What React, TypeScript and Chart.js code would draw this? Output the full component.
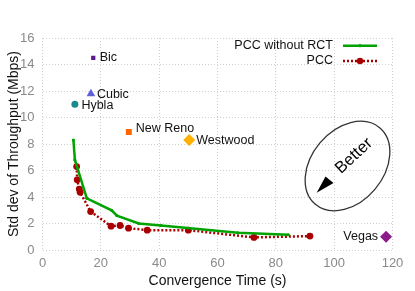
import React, { useEffect, useRef } from "react";
import { Chart, registerables } from "chart.js";
Chart.register(...registerables);

// ---- data ----
const pccNoRctX = [10.6, 11.1, 15.2, 23.7, 25.5, 33.0, 40.6, 67.0, 84.3];
const pccNoRctY = [8.3, 6.8, 3.9, 3.0, 2.6, 2.0, 1.85, 1.3, 1.15];
const pccX = [11.7, 11.9, 12.6, 12.9, 16.5, 23.5, 26.6, 29.5, 35.9, 50.0, 72.5, 91.7];
const pccY = [6.3, 5.3, 4.6, 4.35, 2.9, 1.8, 1.85, 1.65, 1.5, 1.5, 0.95, 1.05];
const tcpNames = ["Bic", "Cubic", "Hybla", "New Reno", "Westwood", "Vegas"];
const tcpX = [17.4, 16.6, 11.1, 29.6, 50.3, 117.8];
const tcpY = [14.5, 11.8, 11.0, 8.9, 8.3, 1.0];
const seriesNames = ["PCC without RCT", "PCC"];
const xTickValues = [0, 20, 40, 60, 80, 100, 120];
const yTickValues = [0, 2, 4, 6, 8, 10, 12, 14, 16];

// ---- styles ----
const tcpColors = ["#5b1a8e", "#5f5fdc", "#1a8a8a", "#ff6600", "#ffb000", "#8b1a8b"];
const tcpStyles = ["rect", "triangle", "circle", "rect", "rectRot", "rectRot"];
const tcpRadius = [3, 5, 3.5, 4.2, 6, 6];
const tcpLabelOffset: [number, number, string][] = [
  [6.5, 0, "left"],
  [6, 1, "left"],
  [6.5, 1, "left"],
  [7, -4, "left"],
  [7, 1, "left"],
  [-8, 0, "right"],
];
const GREEN = "#00a300";
const RED = "#a80000";
const FONT = "'Liberation Sans', Arial, sans-serif";

const overlayPlugin = {
  id: "overlay",
  afterDatasetsDraw(chart: any) {
    const ctx = chart.ctx;
    const xs = chart.scales.x;
    const ys = chart.scales.y;
    ctx.save();
    // point labels
    ctx.font = `12.5px ${FONT}`;
    ctx.fillStyle = "#111";
    ctx.textBaseline = "middle";
    tcpNames.forEach((n, i) => {
      const px = xs.getPixelForValue(tcpX[i]);
      const py = ys.getPixelForValue(tcpY[i]);
      const [dx, dy, al] = tcpLabelOffset[i];
      ctx.textAlign = al;
      ctx.fillText(n, px + dx, py + dy);
    });
    // legend
    const rows = [
      { y: 45.7, color: GREEN, dash: [], r: 1.6, w: 2.5 },
      { y: 61, color: RED, dash: [2, 2], r: 3.2, w: 2.5 },
    ];
    rows.forEach((row, i) => {
      ctx.textAlign = "right";
      ctx.fillStyle = "#111";
      ctx.fillText(seriesNames[i], 333, row.y);
      ctx.strokeStyle = row.color;
      ctx.lineWidth = row.w;
      ctx.setLineDash(row.dash);
      ctx.beginPath();
      ctx.moveTo(343, row.y);
      ctx.lineTo(377, row.y);
      ctx.stroke();
      ctx.setLineDash([]);
      ctx.fillStyle = row.color;
      ctx.beginPath();
      ctx.arc(360, row.y, row.r, 0, Math.PI * 2);
      ctx.fill();
    });
    // "Better" annotation
    ctx.strokeStyle = "#333";
    ctx.lineWidth = 1.3;
    ctx.beginPath();
    ctx.ellipse(347.5, 166, 50, 36, (-50 * Math.PI) / 180, 0, Math.PI * 2);
    ctx.stroke();
    ctx.fillStyle = "#000";
    ctx.beginPath();
    ctx.moveTo(316.7, 192.7);
    ctx.lineTo(325.5, 176.5);
    ctx.lineTo(333.5, 183);
    ctx.closePath();
    ctx.fill();
    ctx.translate(354, 156);
    ctx.rotate((-43 * Math.PI) / 180);
    ctx.font = `16.5px ${FONT}`;
    ctx.textAlign = "center";
    ctx.textBaseline = "middle";
    ctx.fillText("Better", 0, 0);
    ctx.restore();
  },
};

export default function App() {
  const ref = useRef<HTMLCanvasElement>(null);
  useEffect(() => {
    if (!ref.current) return;
    const datasets: any[] = [
      {
        label: seriesNames[0],
        data: pccNoRctX.map((x, i) => ({ x, y: pccNoRctY[i] })),
        showLine: true,
        borderColor: GREEN,
        backgroundColor: GREEN,
        borderWidth: 2.5,
        pointRadius: 1.6,
        pointBorderWidth: 0,
        tension: 0,
      },
      {
        label: seriesNames[1],
        data: pccX.map((x, i) => ({ x, y: pccY[i] })),
        showLine: true,
        borderColor: RED,
        backgroundColor: RED,
        borderWidth: 2.5,
        borderDash: [2, 2],
        pointRadius: 3.4,
        pointBorderWidth: 0,
        tension: 0,
      },
      ...tcpNames.map((n, i) => ({
        label: n,
        data: [{ x: tcpX[i], y: tcpY[i] }],
        showLine: false,
        backgroundColor: tcpColors[i],
        borderColor: tcpColors[i],
        pointStyle: tcpStyles[i],
        pointRadius: tcpRadius[i],
        pointBorderWidth: 0,
      })),
    ];
    const grid = {
      color: "#cfcfcf",
      lineWidth: 1,
      drawTicks: false,
    };
    const border = { display: false, dash: [1, 2] };
    const chart = new Chart(ref.current, {
      type: "scatter",
      data: { datasets },
      options: {
        animation: false,
        responsive: false,
        layout: { padding: { left: 0, right: 22.5, top: 38, bottom: 0 } },
        plugins: { legend: { display: false }, tooltip: { enabled: false } },
        scales: {
          x: {
            type: "linear",
            min: 0,
            max: 120,
            afterBuildTicks: (s: any) => {
              s.ticks = xTickValues.map((v) => ({ value: v }));
            },
            afterFit: (s: any) => {
              s.height = 41;
            },
            grid,
            border,
            ticks: { color: "#8a8a8a", font: { size: 13, family: FONT }, padding: 6 },
            title: {
              display: true,
              text: "Convergence Time (s)",
              color: "#111",
              font: { size: 14, family: FONT },
              padding: { top: 0, bottom: 1 },
            },
          },
          y: {
            type: "linear",
            min: 0,
            max: 16,
            afterBuildTicks: (s: any) => {
              s.ticks = yTickValues.map((v) => ({ value: v }));
            },
            afterFit: (s: any) => {
              s.width = 42.5;
            },
            grid,
            border,
            ticks: { color: "#8a8a8a", font: { size: 13, family: FONT }, padding: 8 },
            title: {
              display: true,
              text: "Std dev of Throughput (Mbps)",
              color: "#111",
              font: { size: 14, family: FONT },
              padding: { top: 5.6, bottom: 0 },
            },
          },
        },
      },
      plugins: [overlayPlugin],
    } as any);
    return () => chart.destroy();
  }, []);
  return (
    <div style={{ position: "fixed", left: 0, top: 0, width: 415, height: 291, background: "#fff" }}>
      <canvas ref={ref} width={415} height={291} style={{ display: "block" }} />
    </div>
  );
}
